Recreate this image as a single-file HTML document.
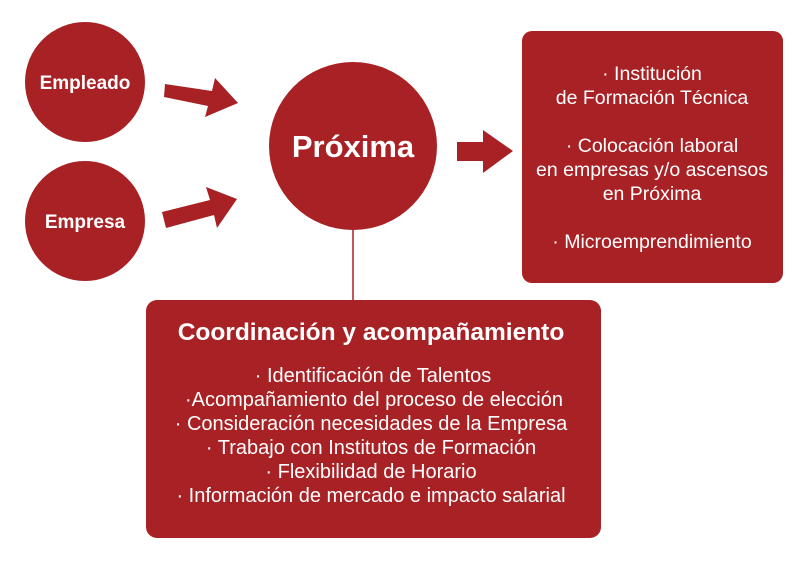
<!DOCTYPE html>
<html><head><meta charset="utf-8"><style>
html,body{margin:0;padding:0;background:#fff;}
svg{display:block;font-family:"Liberation Sans",Arial,sans-serif;}
</style></head><body>
<svg width="800" height="561" viewBox="0 0 800 561" xmlns="http://www.w3.org/2000/svg">
<g fill="#a82125">
<circle cx="85" cy="82" r="60"/>
<circle cx="85" cy="221" r="60"/>
<circle cx="353" cy="146" r="84"/>
<rect x="522" y="31" width="261" height="252" rx="10"/>
<rect x="146" y="300" width="455" height="238" rx="11"/>
<polygon points="165,84 212,91 215,78 238,103 205,117 208,106 164,97"/>
<polygon points="162,212 210,200 206,187 237,199 217,228 214,215 166,228"/>
<polygon points="457,142 483,142 483,130 513,151 483,173 483,161 457,161"/>
</g>
<line x1="353" y1="228" x2="353" y2="300" stroke="#a82125" stroke-width="1.5"/>
<g fill="#fff" text-anchor="middle">
<text x="85" y="89" font-size="19" font-weight="bold">Empleado</text>
<text x="85" y="228" font-size="19" font-weight="bold">Empresa</text>
<text x="353" y="157" font-size="31" font-weight="bold">Próxima</text>
<g font-size="19.5">
<text x="652" y="80">· Institución</text>
<text x="652" y="104">de Formación Técnica</text>
<text x="652" y="152">· Colocación laboral</text>
<text x="652" y="176">en empresas y/o ascensos</text>
<text x="652" y="200">en Próxima</text>
<text x="652" y="248">· Microemprendimiento</text>
</g>
<text x="371" y="340" font-size="24.5" font-weight="bold">Coordinación y acompañamiento</text>
<g font-size="20">
<text x="373" y="382">· Identificación de Talentos</text>
<text x="374" y="406">·Acompañamiento del proceso de elección</text>
<text x="371" y="430">· Consideración necesidades de la Empresa</text>
<text x="371" y="454">· Trabajo con Institutos de Formación</text>
<text x="371" y="478">· Flexibilidad de Horario</text>
<text x="371" y="502">· Información de mercado e impacto salarial</text>
</g>
</g>
</svg>
</body></html>
